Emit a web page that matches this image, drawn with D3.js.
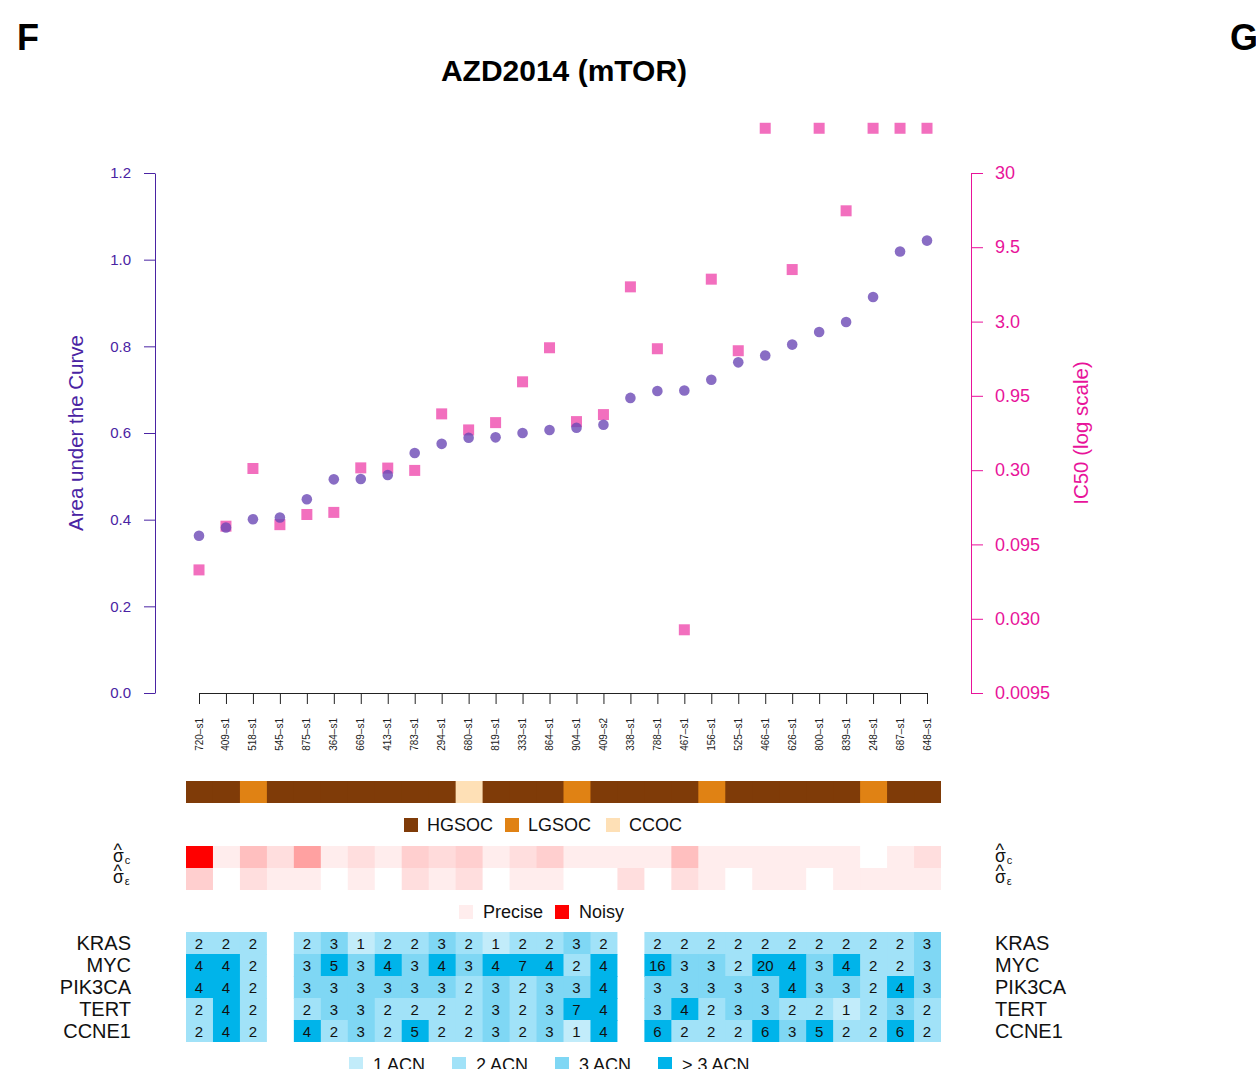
<!DOCTYPE html>
<html>
<head>
<meta charset="utf-8">
<script src="https://cdn.jsdelivr.net/npm/d3@7"></script>
<style>
  body { margin: 0; background: #fff; }
  svg { display: block; font-family: "Liberation Sans", Arial, sans-serif; }
</style>
</head>
<body>
<div id="chart"></div>
<script>
// ---- data ----
const samples = ["720-s1","409-s1","518-s1","545-s1","875-s1","364-s1","669-s1","413-s1","783-s1","294-s1",
  "680-s1","819-s1","333-s1","864-s1","904-s1","409-s2","338-s1","788-s1","467-s1","156-s1",
  "525-s1","466-s1","626-s1","800-s1","839-s1","248-s1","687-s1","648-s1"];

const auc = [0.363,0.382,0.401,0.405,0.447,0.493,0.494,0.503,0.554,0.575,
  0.589,0.590,0.600,0.607,0.612,0.619,0.681,0.697,0.698,0.723,
  0.763,0.779,0.804,0.833,0.856,0.914,1.019,1.044];

// IC50 (uM); values above the axis max are plotted as 60
const ic50 = [0.064,0.126,0.308,0.129,0.151,0.156,0.311,0.31,0.299,0.718,
  0.56,0.627,1.18,2.0,0.637,0.71,5.14,1.97,0.0253,5.79,
  1.91,60,6.72,60,16.7,60,60,60];

const subtype = ["HGSOC","HGSOC","LGSOC","HGSOC","HGSOC","HGSOC","HGSOC","HGSOC","HGSOC","HGSOC",
  "CCOC","HGSOC","HGSOC","HGSOC","LGSOC","HGSOC","HGSOC","HGSOC","HGSOC","LGSOC",
  "HGSOC","HGSOC","HGSOC","HGSOC","HGSOC","LGSOC","HGSOC","HGSOC"];
const subtypeNames = ["HGSOC","LGSOC","CCOC"];
const subtypeColors = ["#7f3b08","#e08214","#fee0b6"];

// noise level, 0 = precise, 1 = noisy
const sigmaC = [1.0,0.07,0.25,0.13,0.37,0.07,0.13,0.07,0.19,0.14,0.19,0.07,0.13,0.19,
  0.07,0.07,0.07,0.07,0.25,0.07,0.07,0.07,0.07,0.07,0.07,0,0.07,0.13];
const sigmaE = [0.19,0,0.13,0.07,0.07,0,0.07,0,0.13,0.07,0.13,0,0.07,0.07,
  0,0,0.13,0,0.13,0.07,0,0.07,0.07,0,0.07,0.07,0.07,0.07];

const genes = ["KRAS","MYC","PIK3CA","TERT","CCNE1"];
const cnaKRAS  = [2,2,2,null,2,3,1,2,2,3,2,1,2,2,3,2,null,2,2,2,2,2,2,2,2,2,2,3];
const cnaMYC   = [4,4,2,null,3,5,3,4,3,4,3,4,7,4,2,4,null,16,3,3,2,20,4,3,4,2,2,3];
const cnaPIK3CA= [4,4,2,null,3,3,3,3,3,3,2,3,2,3,3,4,null,3,3,3,3,3,4,3,3,2,4,3];
const cnaTERT  = [2,4,2,null,2,3,3,2,2,2,2,3,2,3,7,4,null,3,4,2,3,3,2,2,1,2,3,2];
const cnaCCNE1 = [2,4,2,null,4,2,3,2,5,2,2,3,2,3,1,4,null,6,2,2,2,6,3,5,2,2,6,2];
const cnaRows = [cnaKRAS, cnaMYC, cnaPIK3CA, cnaTERT, cnaCCNE1];

const aucTicks = [0, 0.2, 0.4, 0.6, 0.8, 1.0, 1.2];
const icTicks = [30, 9.5, 3.0, 0.95, 0.30, 0.095, 0.030, 0.0095];
const icTickLabels = ["30","9.5","3.0","0.95","0.30","0.095","0.030","0.0095"];
const acnLabels = ["1 ACN","2 ACN","3 ACN","> 3 ACN"];
const acnColors = ["#c2ecfa","#a1e2f8","#7fd7f4","#00b4ea"];

// ---- drawing ----
const purple = "#4a23a3";
const magenta = "#e8139a";
const font = '"Liberation Sans", Arial, sans-serif';

const svg = d3.select('#chart')
  .append('svg')
  .attr('width', 1256)
  .attr('height', 1069);

const x = d3.scalePoint().domain(samples).range([199, 927]);
const band = d3.scaleBand().domain(samples).range([186, 941]);
const yAuc = d3.scaleLinear().domain([0, 1.2]).range([693, 173]);
const yIc = d3.scaleLog().domain([0.0095, 30]).range([693, 173]);

// panel letters and title
svg.append('text').attr('x', 17).attr('y', 50).attr('font-size', 36).attr('font-weight', 'bold').text('F');
svg.append('text').attr('x', 1230).attr('y', 50).attr('font-size', 36).attr('font-weight', 'bold').text('G');
svg.append('text').attr('x', 564).attr('y', 81).attr('text-anchor', 'middle')
  .attr('font-size', 30).attr('font-weight', 'bold').text('AZD2014 (mTOR)');

// left axis (AUC)
const gLeft = svg.append('g').attr('transform', 'translate(155,0)')
  .call(d3.axisLeft(yAuc).tickValues(aucTicks).tickFormat(d3.format('.1f'))
    .tickSize(11).tickSizeOuter(0).tickPadding(13));
gLeft.attr('font-family', font).attr('font-size', 15);
gLeft.selectAll('path, line').attr('stroke', purple);
gLeft.selectAll('text').attr('fill', purple);

svg.append('text')
  .attr('transform', 'translate(83,433) rotate(-90)')
  .attr('text-anchor', 'middle')
  .attr('font-size', 20.5)
  .attr('fill', purple)
  .text('Area under the Curve');

// right axis (IC50)
const gRight = svg.append('g').attr('transform', 'translate(971,0)')
  .call(d3.axisRight(yIc).tickValues(icTicks).tickFormat((d, i) => icTickLabels[i])
    .tickSize(12).tickSizeOuter(0).tickPadding(12));
gRight.attr('font-family', font).attr('font-size', 18);
gRight.selectAll('path, line').attr('stroke', magenta);
gRight.selectAll('text').attr('fill', magenta);

svg.append('text')
  .attr('transform', 'translate(1088,433) rotate(-90)')
  .attr('text-anchor', 'middle')
  .attr('font-size', 20.5)
  .attr('fill', magenta)
  .text('IC50 (log scale)');

// bottom axis with sample names
const gBottom = svg.append('g').attr('transform', 'translate(0,693)')
  .call(d3.axisBottom(x).tickSize(11).tickSizeOuter(0).tickFormat(''));
gBottom.selectAll('path, line').attr('stroke', '#222');

svg.append('g').selectAll('text')
  .data(samples)
  .join('text')
  .attr('transform', d => 'translate(' + (x(d) + 3.5) + ',718) rotate(-90)')
  .attr('text-anchor', 'end')
  .attr('font-size', 10)
  .attr('fill', '#222')
  .text(d => d.replace('-', '\u2013'));

// IC50 squares then AUC circles
svg.append('g').selectAll('rect')
  .data(samples)
  .join('rect')
  .attr('x', d => x(d) - 5.5)
  .attr('y', (d, i) => yIc(ic50[i]) - 5.5)
  .attr('width', 11)
  .attr('height', 11)
  .attr('fill', '#ee3fa8')
  .attr('fill-opacity', 0.75);

svg.append('g').selectAll('circle')
  .data(samples)
  .join('circle')
  .attr('cx', d => x(d))
  .attr('cy', (d, i) => yAuc(auc[i]))
  .attr('r', 5.3)
  .attr('fill', '#6b48b5')
  .attr('fill-opacity', 0.8);

// subtype bar
const subColor = d3.scaleOrdinal().domain(subtypeNames).range(subtypeColors);
svg.append('g').selectAll('rect')
  .data(samples)
  .join('rect')
  .attr('x', d => band(d))
  .attr('y', 781)
  .attr('width', (d, i) => band.bandwidth() + (i < samples.length - 1 ? 1 : 0))
  .attr('height', 22)
  .attr('fill', (d, i) => subColor(subtype[i]));

const subLegendX = [404, 505, 606];
const gSubLeg = svg.append('g');
subtypeNames.forEach((s, i) => {
  gSubLeg.append('rect').attr('x', subLegendX[i]).attr('y', 818).attr('width', 14).attr('height', 14)
    .attr('fill', subtypeColors[i]);
  gSubLeg.append('text').attr('x', subLegendX[i] + 23).attr('y', 831).attr('font-size', 18)
    .attr('fill', '#111').text(s);
});

// noise heatmap
const noiseColor = d3.scaleLinear().domain([0, 1]).range(['#ffffff', '#ff0000']);
[sigmaC, sigmaE].forEach((row, r) => {
  svg.append('g').selectAll('rect')
    .data(samples)
    .join('rect')
    .attr('x', d => band(d))
    .attr('y', 846 + r * 22)
    .attr('width', (d, i) => band.bandwidth() + (i < samples.length - 1 ? 1 : 0))
    .attr('height', r === 0 ? 23 : 22)
    .attr('fill', (d, i) => noiseColor(row[i]));
});

// sigma labels (hat over sigma, with subscript), one text element each
function sigmaLabel(x0, base, sub) {
  const t = svg.append('text').attr('fill', '#111');
  t.append('tspan').attr('x', x0 + 0.5).attr('y', base - 6).attr('font-size', 18).text('^');
  t.append('tspan').attr('x', x0).attr('y', base).attr('font-size', 17.5).text('\u03c3');
  t.append('tspan').attr('dx', 1).attr('y', base + 2).attr('font-size', 11).text(sub);
}
sigmaLabel(113, 862, 'c');
sigmaLabel(113, 883, '\u03b5');
sigmaLabel(995, 862, 'c');
sigmaLabel(995, 883, '\u03b5');

const noiseLegend = [["Precise", noiseColor(0.07), 459], ["Noisy", noiseColor(1), 555]];
noiseLegend.forEach(([label, col, lx]) => {
  svg.append('rect').attr('x', lx).attr('y', 905).attr('width', 14).attr('height', 14).attr('fill', col);
  svg.append('text').attr('x', lx + 24).attr('y', 918).attr('font-size', 18).attr('fill', '#111').text(label);
});

// copy-number heatmap
const acnColor = v => acnColors[Math.min(v, 4) - 1];
const rowY = d3.scaleBand().domain(genes).range([932, 1042]);
cnaRows.forEach((row, r) => {
  const cells = samples.map((s, i) => ({ s: s, v: row[i], i: i })).filter(c => c.v !== null);
  const g = svg.append('g');
  g.selectAll('rect')
    .data(cells)
    .join('rect')
    .attr('x', c => band(c.s))
    .attr('y', rowY(genes[r]))
    .attr('width', c => band.bandwidth() + (row[c.i + 1] != null ? 1 : 0))
    .attr('height', rowY.bandwidth() + (r < genes.length - 1 ? 1 : 0))
    .attr('fill', c => acnColor(c.v));
  g.selectAll('text')
    .data(cells)
    .join('text')
    .attr('x', c => x(c.s))
    .attr('y', rowY(genes[r]) + rowY.bandwidth() / 2 + 5.5)
    .attr('text-anchor', 'middle')
    .attr('font-size', 15)
    .attr('fill', '#111')
    .text(c => c.v);
});

genes.forEach(gname => {
  const cy = rowY(gname) + rowY.bandwidth() / 2 + 7;
  svg.append('text').attr('x', 131).attr('y', cy).attr('text-anchor', 'end')
    .attr('font-size', 20).attr('fill', '#111').text(gname);
  svg.append('text').attr('x', 995).attr('y', cy)
    .attr('font-size', 20).attr('fill', '#111').text(gname);
});

const acnLegendX = [349, 452, 555, 658];
acnLabels.forEach((label, i) => {
  svg.append('rect').attr('x', acnLegendX[i]).attr('y', 1057).attr('width', 14).attr('height', 14)
    .attr('fill', acnColors[i]);
  svg.append('text').attr('x', acnLegendX[i] + 24).attr('y', 1071).attr('font-size', 18)
    .attr('fill', '#111').text(label);
});
</script>
</body>
</html>
